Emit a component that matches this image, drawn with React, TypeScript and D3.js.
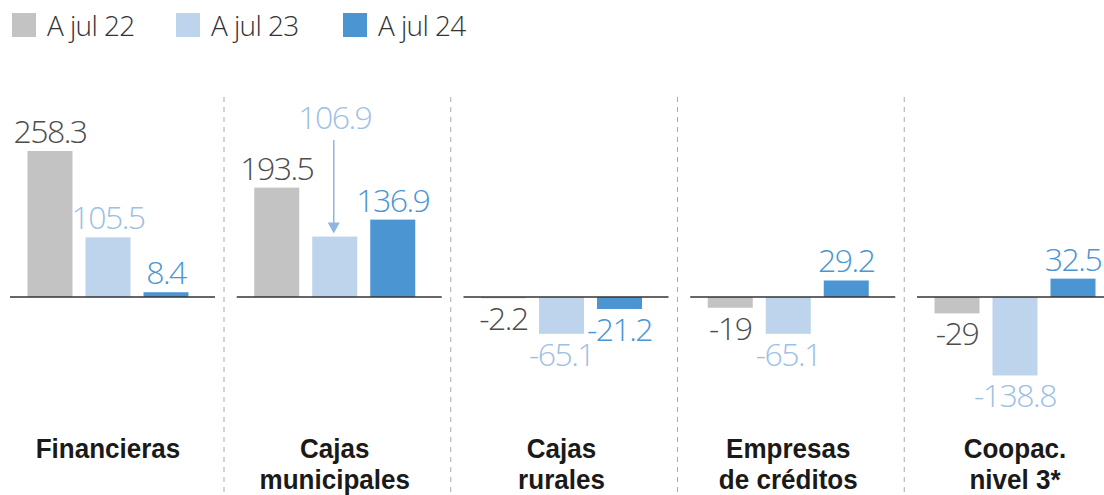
import React from 'react';
import * as d3 from 'd3';

// categorias y series (montos)
const categories = ['Financieras', 'Cajas municipales', 'Cajas rurales', 'Empresas de créditos', 'Coopac. nivel 3*'];
const categoryLines = [['Financieras'], ['Cajas', 'municipales'], ['Cajas', 'rurales'], ['Empresas', 'de créditos'], ['Coopac.', 'nivel 3*']];
const series = ['A jul 22', 'A jul 23', 'A jul 24'];
const valuesJul22 = [258.3, 193.5, -2.2, -19, -29];
const valuesJul23 = [105.5, 106.9, -65.1, -65.1, -138.8];
const valuesJul24 = [8.4, 136.9, -21.2, 29.2, 32.5];

const barColors = ['#c3c3c3', '#bed3ec', '#4b95d3'];
const labelColors = ['#4d4d4d', '#9dc0e5', '#4b95d3'];

const W = 1104;
const H = 495;
const numFont = '"Open Sans", sans-serif';
const catFont = '"Liberation Sans", Arial, sans-serif';

export default function App() {
  const allValues = [valuesJul22, valuesJul23, valuesJul24];

  const x0 = d3.scalePoint<string>().domain(categories).range([108, 1015]);
  const x1 = d3.scaleBand<string>().domain(series).range([-80.5, 80.5]).paddingInner(0.224).paddingOuter(0);
  const y = d3.scaleLinear().domain([0, 258.3]).range([297, 151]);

  const rows = categories.flatMap((c, i) =>
    series.map((s, j) => ({ c, s, i, j, v: allValues[j][i] }))
  );

  return (
    <svg width={W} height={H} style={{ position: 'absolute', left: 0, top: 0 }}>
      {/* leyenda */}
      {series.map((s, j) => {
        const lx = [12, 176, 343][j];
        return (
          <g key={s}>
            <rect x={lx} y={13} width={24} height={24} fill={barColors[j]} />
            <text x={lx + 35} y={36} fontFamily={numFont} fontWeight={300} fontSize={28} letterSpacing={-0.6} fill="#333">
              {s}
            </text>
          </g>
        );
      })}

      {/* separadores */}
      {categories.slice(0, -1).map(c => (
        <line key={c} x1={x0(c)! + 116} x2={x0(c)! + 116} y1={97} y2={H}
          stroke="#aaa" strokeWidth={1} strokeDasharray="5,5" />
      ))}

      {/* barras */}
      {rows.map(d => {
        const bx = x0(d.c)! + x1(d.s)!;
        const top = Math.min(y(d.v), y(0));
        const h = Math.abs(y(d.v) - y(0));
        return <rect key={d.c + d.s} x={bx} y={top} width={x1.bandwidth()} height={h} fill={barColors[d.j]} />;
      })}

      {/* linea cero por grupo */}
      {categories.map(c => (
        <line key={c} x1={x0(c)! - 98} x2={Math.min(x0(c)! + 107, W)} y1={y(0)} y2={y(0)} stroke="#333" strokeWidth={1.5} />
      ))}

      {/* etiquetas de valores */}
      {rows.map(d => {
        const cx = x0(d.c)! + x1(d.s)! + x1.bandwidth() / 2;
        const raised = d.i === 1 && d.j === 1;
        const ly = raised ? y(d.v) - 108 : d.v >= 0 ? y(d.v) - 8 : y(d.v) + 32;
        return (
          <text key={'l' + d.c + d.s} x={cx} y={ly} textAnchor="middle" fontFamily={numFont} fontWeight={300}
            fontSize={32} letterSpacing={-1.5} fill={labelColors[d.j]}>
            {String(d.v)}
          </text>
        );
      })}

      {/* flecha 106.9 */}
      {(() => {
        const c = categories[1];
        const s = series[1];
        const ax = x0(c)! + x1(s)! + x1.bandwidth() / 2 - 1;
        const tip = y(valuesJul23[1]) - 3;
        return (
          <g stroke="#8fb6e0" fill="#8fb6e0">
            <line x1={ax} x2={ax} y1={140} y2={tip - 8} strokeWidth={1.5} />
            <path d={`M${ax - 6},${tip - 11}L${ax + 6},${tip - 11}L${ax},${tip}Z`} stroke="none" />
          </g>
        );
      })()}

      {/* categorias (letra condensada) */}
      {categories.map((c, i) => (
        <g key={'c' + c} transform={`translate(${x0(c)},0) scale(0.93,1)`}>
          <text x={0} textAnchor="middle" fontFamily={catFont} fontWeight={700} fontSize={28} fill="#1a1a1a">
            {categoryLines[i].map((t, k) => (
              <tspan key={k} x={0} y={458 + k * 31}>{t}</tspan>
            ))}
          </text>
        </g>
      ))}
    </svg>
  );
}
